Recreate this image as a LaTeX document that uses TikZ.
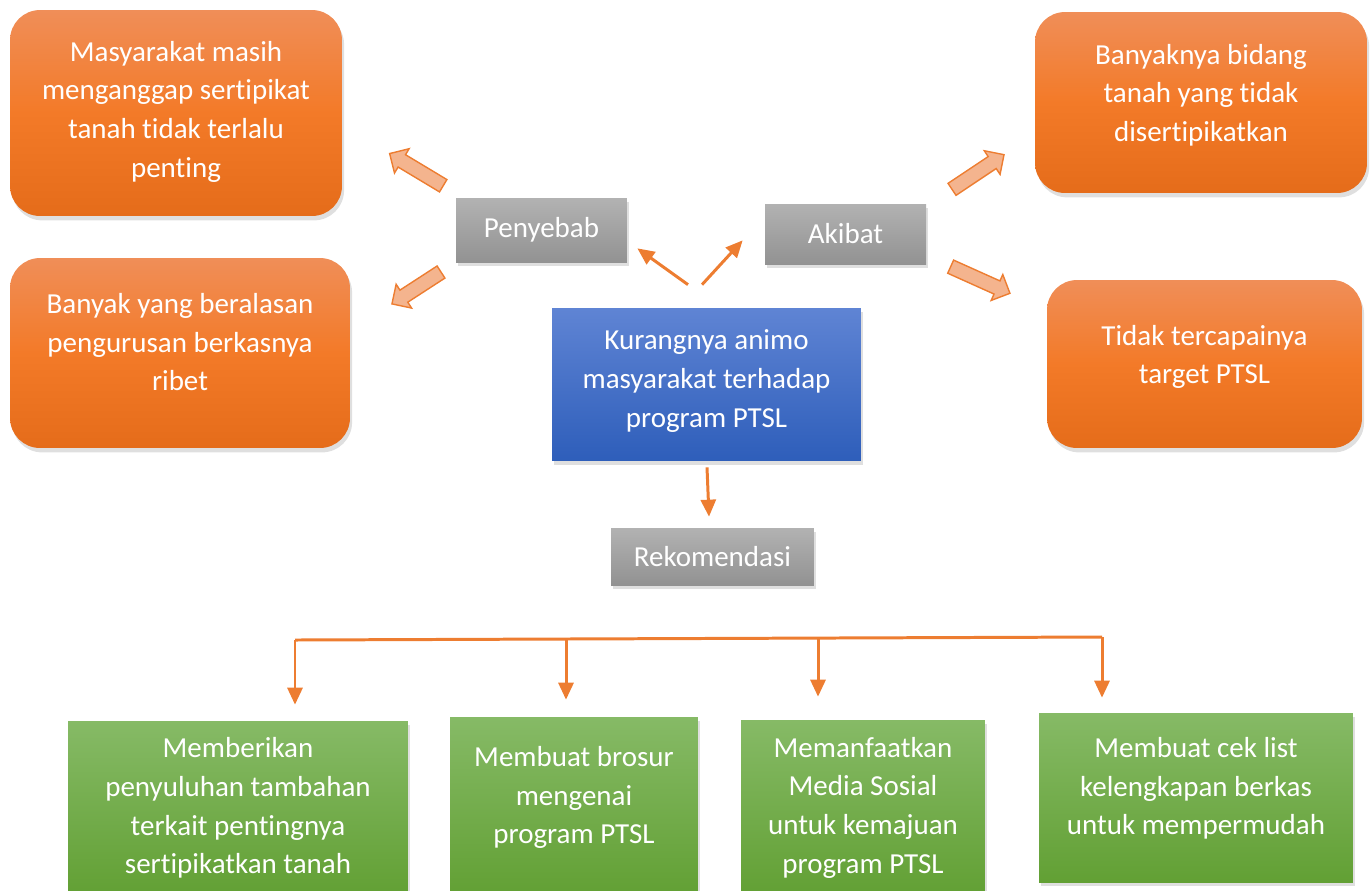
\documentclass[tikz,border=0pt]{standalone}
\usepackage{fontspec}
\setmainfont{Carlito}[RawFeature={-liga;-clig;-calt;-dlig}]
\usepackage{tikz}
\usetikzlibrary{shapes,arrows.meta,positioning,calc,shadows}

\definecolor{lineorange}{RGB}{237,125,49}
\definecolor{orangetop}{RGB}{240,142,88}
\definecolor{orangemid}{RGB}{243,122,40}
\definecolor{orangebot}{RGB}{229,108,26}
\definecolor{bluetop}{RGB}{95,132,212}
\definecolor{bluebot}{RGB}{46,94,186}
\definecolor{graytop}{RGB}{178,178,178}
\definecolor{graybot}{RGB}{146,146,146}
\definecolor{greentop}{RGB}{134,186,102}
\definecolor{greenbot}{RGB}{98,160,52}
\definecolor{salmon}{RGB}{244,180,142}

\begin{document}
\begin{tikzpicture}[
    x=0.02cm, y=-0.02cm,
    txt/.style={align=center, text=white, font=\fontsize{16.5}{22}\selectfont, inner sep=0pt},
    shade/.style={drop shadow={shadow xshift=1.2pt, shadow yshift=-2.5pt, opacity=0.25}},
    cause/.style={txt, shade, rectangle, rounded corners=0.6cm, top color=orangetop, bottom color=orangebot, middle color=orangemid},
    core/.style={txt, shade, rectangle, top color=bluetop, bottom color=bluebot},
    label/.style={txt, shade, rectangle, top color=graytop, bottom color=graybot},
    rec/.style={txt, shade, rectangle, top color=greentop, bottom color=greenbot},
    blockarrow/.style={single arrow, draw=lineorange, fill=salmon, line width=0.8pt, inner sep=0.13cm, single arrow head extend=0.14cm, minimum height=1.25cm, single arrow head indent=0pt},
    arrow/.style={-{Triangle[length=0.34cm, width=0.3cm]}, line width=1.7pt, draw=lineorange},
    line/.style={line width=1.7pt, draw=lineorange}
]
    \useasboundingbox (0,0) rectangle (1371,890);

    % Causes
    \node[cause, minimum width=6.64cm, minimum height=4.12cm] (c1) at (176,113) {Masyarakat masih\\menganggap sertipikat\\tanah tidak terlalu\\penting\\[-17.4pt]};
    \node[cause, minimum width=6.8cm, minimum height=3.8cm] (c2) at (180,353) {Banyak yang beralasan\\pengurusan berkasnya\\ribet\\[-9.5pt]};

    % Effects
    \node[cause, minimum width=6.64cm, minimum height=3.62cm] (a1) at (1201,102.5) {Banyaknya bidang\\tanah yang tidak\\disertipikatkan\\[-11pt]};
    \node[cause, minimum width=6.3cm, minimum height=3.36cm] (a2) at (1204.5,364) {Tidak tercapainya\\target PTSL\\[-11pt]};

    % Labels
    \node[label, minimum width=3.42cm, minimum height=1.28cm] (peny) at (541.5,230) {Penyebab};
    \node[label, minimum width=3.22cm, minimum height=1.2cm] (akib) at (845.5,234) {Akibat};
    \node[label, minimum width=4.06cm, minimum height=1.14cm] (rek) at (712.5,556.5) {Rekomendasi};

    % Core problem
    \node[core, minimum width=6.18cm, minimum height=3.06cm] (main) at (706.5,384.5) {Kurangnya animo\\masyarakat terhadap\\program PTSL\\[-15.2pt]};

    % Recommendations
    \node[rec, minimum width=6.8cm, minimum height=3.48cm] (g1) at (238,808) {Memberikan\\penyuluhan tambahan\\terkait pentingnya\\sertipikatkan tanah};
    \node[rec, minimum width=4.96cm, minimum height=3.56cm] (g2) at (574,806) {Membuat brosur\\mengenai\\program PTSL\\[-9.5pt]};
    \node[rec, minimum width=4.88cm, minimum height=3.5cm] (g3) at (863,807.5) {Memanfaatkan\\Media Sosial\\untuk kemajuan\\program PTSL};
    \node[rec, minimum width=6.28cm, minimum height=3.38cm] (g4) at (1196,797.5) {Membuat cek list\\kelengkapan berkas\\untuk mempermudah\\[-8.9pt]};

    % Block arrows
    \node[blockarrow, rotate=149] (bc1) at (419.5,171.5) {};
    \node[blockarrow, rotate=213, minimum height=1.17cm] (bc2) at (419.5,286) {};
    \node[blockarrow, rotate=33.7] (ba1) at (975,174) {};
    \node[blockarrow, rotate=-24.2, minimum height=1.3cm] (ba2) at (977,278.5) {};

    % Draw Connections
    \draw[arrow] ($(main.north)+(-18.5,-23)$) -- ($(peny.south east)+(10,-14)$);
    \draw[arrow] ($(main.north)+(-4.5,-23)$) -- ($(akib.south west)+(-22,-24)$);
    \draw[arrow] ($(main.south)+(0.5,6)$) -- ($(rek.north)+(-3.5,-11)$);

    % Branches
    \coordinate (b1) at (295,640);
    \coordinate (b2) at (566,639);
    \coordinate (b3) at (818,638);
    \coordinate (b4) at (1102,637);
    \draw[line] (b1) -- (b4);
    \draw[arrow, shorten >=0.32cm] (b1) -- (b1 |- g1.north);
    \draw[arrow, shorten >=0.34cm] (b2) -- (b2 |- g2.north);
    \draw[arrow, shorten >=0.46cm] (b3) -- (b3 |- g3.north);
    \draw[arrow, shorten >=0.3cm] (b4) -- (b4 |- g4.north);

\end{tikzpicture}
\end{document}
